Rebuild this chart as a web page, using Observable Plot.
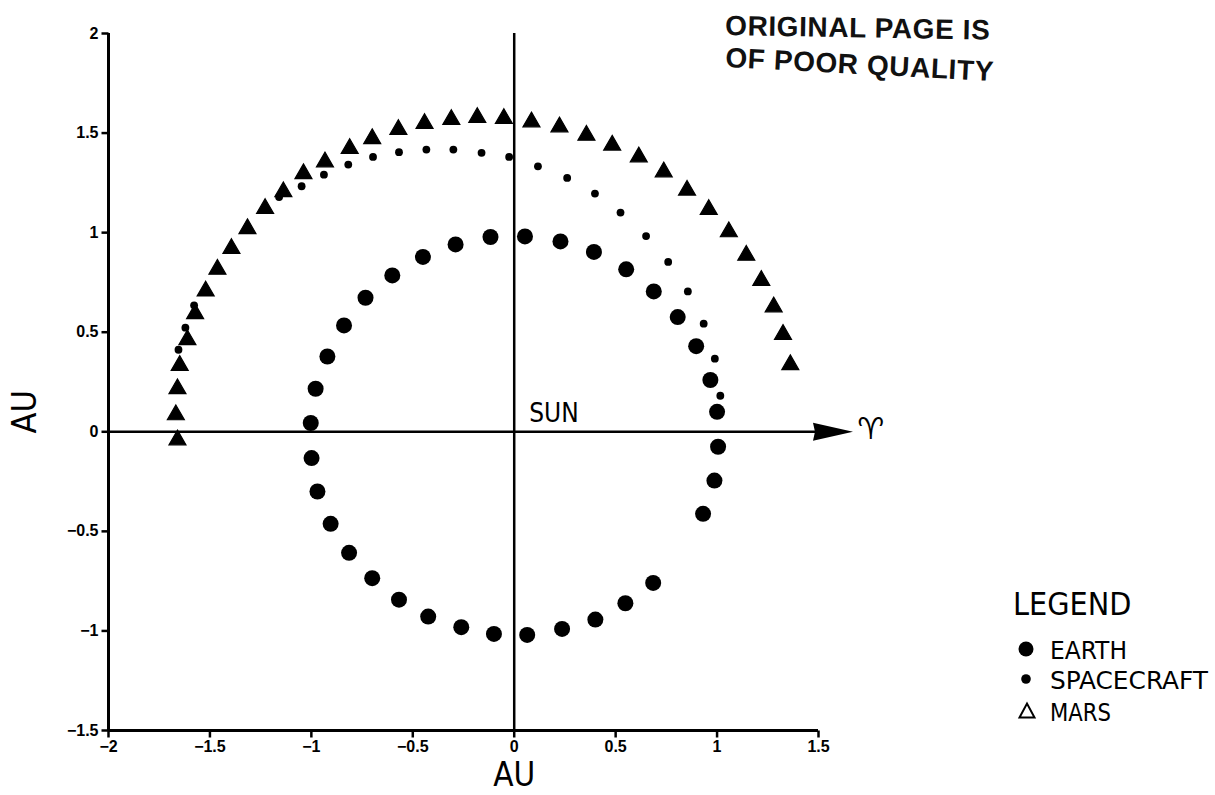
<!DOCTYPE html>
<html>
<head>
<meta charset="utf-8">
<script src="https://cdn.jsdelivr.net/npm/d3@7"></script>
<script src="https://cdn.jsdelivr.net/npm/@observablehq/plot@0.6"></script>
<style>
  body { margin: 0; background: #fff; }
  #chart { position: relative; width: 1215px; height: 795px; overflow: hidden; }
</style>
</head>
<body>
<div id="chart"></div>
<script>
// Heliocentric positions (AU) in the ecliptic plane, one mark per time step.
const earthX = [1.005, 1.0, 0.967, 0.897, 0.806, 0.688, 0.552, 0.393, 0.228, 0.053, -0.117, -0.289, -0.450, -0.601, -0.733, -0.839, -0.921, -0.979, -1.003, -0.999, -0.970, -0.905, -0.814, -0.700, -0.568, -0.424, -0.261, -0.100, 0.064, 0.236, 0.400, 0.548, 0.685, 0.931, 0.987];
const earthY = [-0.075, 0.10, 0.26, 0.43, 0.576, 0.705, 0.816, 0.903, 0.956, 0.981, 0.978, 0.941, 0.878, 0.785, 0.673, 0.534, 0.378, 0.216, 0.044, -0.132, -0.300, -0.462, -0.608, -0.735, -0.843, -0.928, -0.981, -1.015, -1.020, -0.990, -0.943, -0.861, -0.759, -0.412, -0.245];

const spacecraftX = [1.016, 0.989, 0.934, 0.856, 0.759, 0.650, 0.524, 0.398, 0.261, 0.117, -0.025, -0.161, -0.300, -0.433, -0.568, -0.696, -0.818, -0.938, -1.048, -1.159, -1.578, -1.621, -1.655];
const spacecraftY = [0.181, 0.367, 0.543, 0.705, 0.853, 0.983, 1.101, 1.196, 1.275, 1.333, 1.380, 1.401, 1.417, 1.417, 1.404, 1.380, 1.342, 1.291, 1.233, 1.179, 0.635, 0.523, 0.412];

const marsX = [1.361, 1.325, 1.279, 1.218, 1.144, 1.058, 0.959, 0.852, 0.737, 0.614, 0.483, 0.356, 0.223, 0.085, -0.051, -0.182, -0.310, -0.442, -0.571, -0.700, -0.811, -0.933, -1.039, -1.138, -1.228, -1.315, -1.394, -1.463, -1.521, -1.573, -1.611, -1.649, -1.660, -1.668, -1.660];
const marsY = [0.337, 0.489, 0.627, 0.760, 0.886, 1.004, 1.116, 1.213, 1.305, 1.380, 1.439, 1.489, 1.531, 1.556, 1.573, 1.578, 1.568, 1.548, 1.518, 1.472, 1.422, 1.355, 1.296, 1.205, 1.121, 1.020, 0.920, 0.816, 0.707, 0.593, 0.462, 0.333, 0.216, 0.085, -0.041];

const xTicks = [-2, -1.5, -1, -0.5, 0, 0.5, 1, 1.5];
const yTicks = [-1.5, -1, -0.5, 0, 0.5, 1, 1.5, 2];
const vernalArrowTip = 1.67;   // x-axis arrow pointing to the vernal equinox

const legendItems = ["EARTH", "SPACECRAFT", "MARS"];
const stampLines = ["ORIGINAL PAGE IS", "OF POOR QUALITY"];

const narrow = "'Liberation Sans Narrow', 'DejaVu Sans Condensed', sans-serif";
const bold = "'Liberation Sans', Arial, sans-serif";

// filled arrowhead, tip at the origin
const arrowHead = {
  draw(ctx) {
    ctx.moveTo(0, 0);
    ctx.lineTo(-40, -9);
    ctx.lineTo(-38, 0);
    ctx.lineTo(-40, 9);
    ctx.closePath();
  }
};
// short outward tick marks
const tickDown = {draw(ctx) { ctx.moveTo(0, 0); ctx.lineTo(0, 7); }};
const tickLeft = {draw(ctx) { ctx.moveTo(0, 0); ctx.lineTo(-7, 0); }};

const fmt = d3.format("~g");

const plot = Plot.plot({
  width: 1215,
  height: 795,
  marginLeft: 108,
  marginRight: 397,
  marginTop: 33,
  marginBottom: 65,
  x: {domain: [-2, 1.5], axis: null},
  y: {domain: [-1.5, 2], axis: null},
  style: {background: "#fff", color: "#000", overflow: "visible"},
  marks: [
    // frame
    Plot.ruleX([-2], {y1: -1.5, y2: 2, strokeWidth: 3}),
    Plot.ruleY([-1.5], {x1: -2, x2: 1.5, strokeWidth: 3}),
    // ticks and tick labels
    Plot.dot(xTicks, {x: d => d, y: -1.5, symbol: tickDown, stroke: "#000", strokeWidth: 2.5, fill: "none"}),
    Plot.dot(yTicks, {x: -2, y: d => d, symbol: tickLeft, stroke: "#000", strokeWidth: 2.5, fill: "none"}),
    Plot.text(xTicks, {x: d => d, y: -1.5, text: d => fmt(d), dy: 10, lineAnchor: "top",
      fontSize: 16, fontWeight: "bold", fontFamily: bold}),
    Plot.text(yTicks, {x: -2, y: d => d, text: d => fmt(d), dx: -10, textAnchor: "end",
      fontSize: 16, fontWeight: "bold", fontFamily: bold}),
    // Sun-centred cross axes
    Plot.ruleX([0], {y1: -1.5, y2: 2, strokeWidth: 2.5}),
    Plot.ruleY([0], {x1: -2, x2: vernalArrowTip - 0.18, strokeWidth: 2.5}),
    Plot.dot([vernalArrowTip], {x: d => d, y: 0, symbol: arrowHead, fill: "#000", stroke: "none", r: 1}),
    // orbits
    Plot.dot(earthX, {x: earthX, y: earthY, r: 8, fill: "#000", stroke: "none"}),
    Plot.dot(spacecraftX, {x: spacecraftX, y: spacecraftY, r: 3.9, fill: "#000", stroke: "none"}),
    Plot.dot(marsX, {x: marsX, y: marsY, symbol: "triangle", r: 6.3, fill: "#000", stroke: "#000", strokeWidth: 1.2}),
    // labels
    Plot.text(["SUN"], {x: 0, y: 0, text: d => d, dx: 15, dy: -10, textAnchor: "start", lineAnchor: "bottom",
      fontSize: 26, fontFamily: narrow}),
    Plot.text(["\u2648"], {x: vernalArrowTip, y: 0, text: d => d, dx: 18, dy: -2, textAnchor: "middle",
      fontSize: 30, fontFamily: "'DejaVu Sans', sans-serif"}),
    Plot.text(["AU"], {x: 0, y: -1.5, text: d => d, dy: 45, fontSize: 33, fontFamily: narrow}),
    Plot.text(["AU"], {x: -2, y: 0, text: d => d, dx: -83, dy: -20, rotate: -90, fontSize: 34, fontFamily: narrow})
  ]
});

document.getElementById("chart").appendChild(plot);

const svg = d3.select(plot);

// legend
const lg = svg.append("g").attr("font-family", narrow).attr("fill", "#000").attr("text-anchor", "start");
lg.append("text").attr("x", 1013).attr("y", 615).attr("font-size", 32).text("LEGEND");
const rows = [659, 689, 721];
const rowWidths = [77, 158, 61];
legendItems.forEach((name, i) => {
  lg.append("text").attr("x", 1050).attr("y", rows[i]).attr("font-size", 25)
    .attr("textLength", rowWidths[i]).attr("lengthAdjust", "spacingAndGlyphs").text(name);
});
lg.append("circle").attr("cx", 1026).attr("cy", 649).attr("r", 7.5);
lg.append("circle").attr("cx", 1026).attr("cy", 679).attr("r", 4.8);
lg.append("path").attr("d", "M1019.5,717.5L1034.5,717.5L1027,703.5Z")
  .attr("fill", "none").attr("stroke", "#000").attr("stroke-width", 2);

// stamp
const st = svg.append("g").attr("font-family", bold).attr("font-weight", "bold").attr("text-anchor", "start")
  .attr("font-size", 28).attr("letter-spacing", "0.6").attr("fill", "#111");
st.append("text").attr("transform", "translate(725,35) rotate(1)").text(stampLines[0]);
st.append("text").attr("transform", "translate(725,67) rotate(3)").text(stampLines[1]);
</script>
</body>
</html>
